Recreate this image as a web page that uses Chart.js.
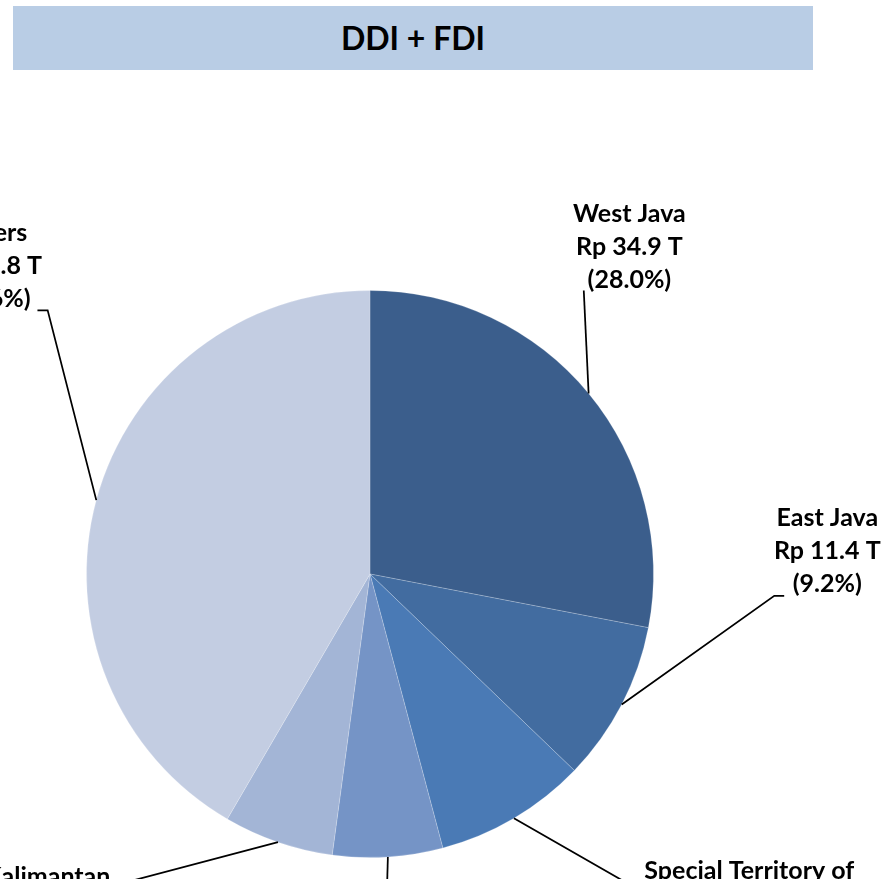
<!DOCTYPE html>
<html>
<head>
<meta charset="utf-8">
<script src="https://cdn.jsdelivr.net/npm/chart.js@4"></script>
<style>
    html, body { margin: 0; padding: 0; background: #fff; overflow: hidden; }
    #wrap { position: relative; width: 885px; height: 879px; }
    #title {
        position: absolute; left: 13px; top: 6px; width: 800px; height: 64px;
        background: #B9CDE5; color: #000; z-index: 2;
        font: bold 32px Lato, "Open Sans", sans-serif; line-height: 64px; text-align: center;
    }
    #pie-chart { position: absolute; left: 0; top: 0; }
</style>
</head>
<body>
<div id="wrap">
    <div id="title">DDI + FDI</div>
    <canvas id="pie-chart" width="885" height="879"></canvas>
</div>
<script>
// investment realisation by province, Rp trillion
const regions = ['West Java', 'East Java', 'Special Territory of Jakarta', 'Banten', 'East Kalimantan', 'Others'];
const investment = [34.9, 11.4, 10.8, 7.8, 7.8, 51.8];
const sliceColors = ['#3B5E8C', '#426CA0', '#4A7AB5', '#7594C6', '#A3B5D6', '#C3CDE2'];

// label placement, in pie radii from the centre: text block (first line), leader elbow, leader end
const labelLayout = [
    { text: [0.915, -1.271], elbow: null, end: [0.754, -1.0] },
    { text: [1.613, -0.197], elbow: [1.426, 0.077], end: [1.461, 0.077] },
    { text: [1.338, 1.049], elbow: [0.915, 1.095], end: [0.944, 1.095] },
    { text: [0.06, 1.17], elbow: null, end: [0.06, 1.11] },
    { text: [-1.232, 1.07], elbow: [-0.863, 1.088], end: [-0.9, 1.088] },
    { text: [-1.345, -1.204], elbow: [-1.137, -0.930], end: [-1.173, -0.930] }
];

const total = investment.reduce((a, b) => a + b, 0);

function wrapName(ctx, name, maxWidth) {
    const words = name.split(' ');
    const lines = [];
    let cur = '';
    words.forEach(w => {
        const test = cur ? cur + ' ' + w : w;
        if (cur && ctx.measureText(test).width > maxWidth) {
            lines.push(cur);
            cur = w;
        } else {
            cur = test;
        }
    });
    lines.push(cur);
    return lines;
}

const calloutLabels = {
    id: 'calloutLabels',
    afterDatasetsDraw(chart) {
        const ctx = chart.ctx;
        const meta = chart.getDatasetMeta(0);
        ctx.save();
        ctx.font = 'bold 25px Lato, "Open Sans", sans-serif';
        ctx.fillStyle = '#000';
        ctx.strokeStyle = '#000';
        ctx.lineWidth = 1.75;
        ctx.textAlign = 'center';
        ctx.textBaseline = 'middle';
        meta.data.forEach((arc, i) => {
            const p = arc.getProps(['x', 'y', 'startAngle', 'endAngle', 'outerRadius'], true);
            const R = p.outerRadius;
            const mid = (p.startAngle + p.endAngle) / 2;
            const lay = labelLayout[i];
            const pt = v => [p.x + v[0] * R, p.y + v[1] * R];

            // leader line
            ctx.beginPath();
            ctx.moveTo(p.x + Math.cos(mid) * R, p.y + Math.sin(mid) * R);
            if (lay.elbow) ctx.lineTo(...pt(lay.elbow));
            ctx.lineTo(...pt(lay.end));
            ctx.stroke();

            // text block
            const value = investment[i];
            const pct = (value / total * 100).toFixed(1);
            const lines = wrapName(ctx, regions[i], 250).concat(['Rp ' + value.toFixed(1) + ' T', '(' + pct + '%)']);
            const [tx, ty] = pt(lay.text);
            lines.forEach((line, k) => ctx.fillText(line, tx, ty + k * 33));
        });
        ctx.restore();
    }
};

const ctx = document.getElementById('pie-chart').getContext('2d');

const myChart = new Chart(ctx, {
    type: 'pie',
    data: {
        labels: regions,
        datasets: [{
            data: investment,
            backgroundColor: sliceColors,
            borderColor: 'rgba(255, 255, 255, 0.2)',
            borderWidth: 1
        }]
    },
    options: {
        responsive: false,
        animation: false,
        layout: {
            padding: { left: 86, top: 290, right: 231, bottom: 21 }
        },
        plugins: {
            legend: { display: false },
            tooltip: { enabled: false }
        }
    },
    plugins: [calloutLabels]
});
</script>
</body>
</html>
